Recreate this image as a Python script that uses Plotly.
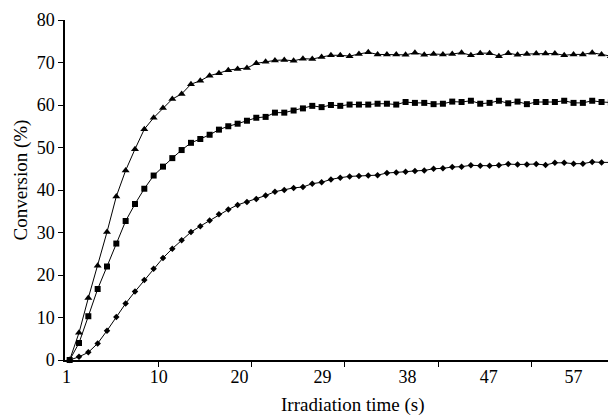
import plotly.graph_objects as go

# category index of each sample (irradiation steps)
idx = list(range(59))

tri = [0, 6.4, 14.6, 22.2, 30.1, 38.5, 44.6, 49.6, 54.3, 57.0,
       59.3, 61.4, 62.6, 64.9, 65.7, 66.9, 67.5, 68.2, 68.5, 68.7,
       69.8, 70.2, 70.5, 70.6, 70.4, 70.9, 70.8, 71.3, 71.7, 71.7,
       71.5, 72.0, 72.4, 71.9, 71.9, 71.9, 71.8, 72.3, 71.8, 72.0,
       71.9, 72.0, 72.3, 71.7, 72.2, 72.2, 71.5, 72.2, 71.8, 72.0,
       72.1, 72.1, 72.1, 71.7, 71.9, 71.9, 72.3, 71.9, 71.5]
sq = [0, 4.0, 10.3, 16.7, 22.0, 27.4, 32.7, 36.7, 40.3, 43.4,
      45.5, 47.5, 49.4, 51.1, 52.0, 53.0, 54.2, 55.0, 55.6, 56.3,
      57.0, 57.2, 58.2, 58.2, 58.7, 59.2, 59.8, 59.5, 60.0, 59.8,
      60.1, 60.1, 60.1, 60.3, 60.3, 60.1, 60.7, 60.5, 60.5, 60.2,
      60.3, 60.8, 60.7, 61.0, 60.3, 60.5, 61.0, 60.4, 60.8, 60.2,
      60.7, 60.7, 60.7, 61.0, 60.5, 60.5, 61.0, 60.7, 60.6]
dia = [0, 0.75, 1.8, 3.9, 6.9, 10.1, 13.3, 16.1, 18.8, 21.5,
       24.0, 26.2, 28.2, 30.1, 31.5, 32.8, 34.3, 35.4, 36.5, 37.2,
       37.9, 38.7, 39.6, 40.0, 40.5, 40.7, 41.5, 41.8, 42.5, 42.9,
       43.2, 43.3, 43.4, 43.5, 44.0, 44.1, 44.3, 44.5, 44.6, 45.0,
       45.1, 45.4, 45.5, 45.8, 45.7, 45.7, 45.8, 46.1, 46.0, 46.0,
       46.1, 45.9, 46.4, 46.4, 46.2, 46.2, 46.6, 46.5, 46.5]

x_tick_labels = ["1", "10", "20", "29", "38", "47", "57"]
x_tick_pos = [-0.35, 9.54, 18.2, 27.1, 36.2, 44.9, 54.0]
x_tick_marks = [9.5, 19.5, 29.5, 39.5, 49.5]
y_ticks = [0, 10, 20, 30, 40, 50, 60, 70, 80]

FONT = "Liberation Serif"

fig = go.Figure()
for ys, sym, size in [(tri, "triangle-up", 7), (sq, "square", 6), (dia, "diamond", 5)]:
    fig.add_trace(go.Scatter(
        x=idx, y=ys, mode="lines+markers",
        line=dict(color="black", width=1),
        marker=dict(symbol=sym, size=size, color="black"),
        cliponaxis=False, showlegend=False))

fig.update_layout(
    width=608, height=408,
    margin=dict(l=57, r=0, t=12, b=55.5),
    paper_bgcolor="white", plot_bgcolor="white",
    font=dict(family=FONT, size=18, color="black"),
    xaxis=dict(range=[-0.5, 58.55], tickmode="array", tickvals=x_tick_pos,
               ticktext=x_tick_labels, ticks="", showline=True,
               linecolor="black", linewidth=1.5, showgrid=False, zeroline=False,
               minor=dict(tickmode="array", tickvals=x_tick_marks, ticks="outside",
                          ticklen=5, tickwidth=1, tickcolor="black", showgrid=False)),
    yaxis=dict(range=[0, 80], tickmode="array", tickvals=y_ticks, ticks="outside",
               ticklen=5, tickwidth=1, tickcolor="black", showline=True,
               linecolor="black", linewidth=1.5, showgrid=False, zeroline=False),
    annotations=[
        dict(text="Irradiation time (s)", xref="paper", yref="paper",
             x=0.523, y=-0.131, xanchor="center", yanchor="middle",
             showarrow=False, font=dict(family=FONT, size=19)),
        dict(text="Conversion (%)", xref="paper", yref="paper",
             x=-0.0805, y=0.53, xanchor="center", yanchor="middle", textangle=-90,
             showarrow=False, font=dict(family=FONT, size=19)),
    ],
)

fig.write_html("out.html")
